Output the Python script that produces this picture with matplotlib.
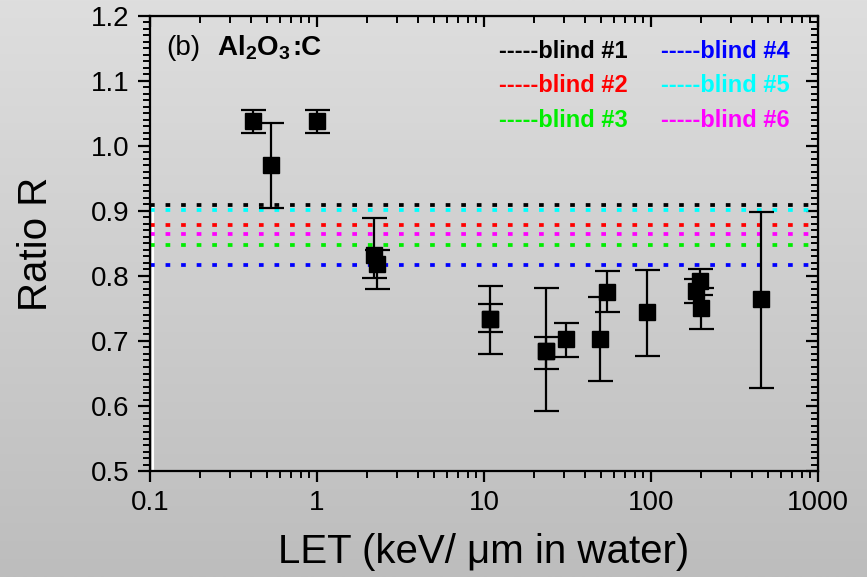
import matplotlib.pyplot as plt
import numpy as np
from matplotlib.ticker import MultipleLocator, LogLocator, NullFormatter, FixedLocator

plt.rcParams['font.family'] = ['Liberation Sans', 'DejaVu Sans']
plt.rcParams['mathtext.fontset'] = 'custom'
plt.rcParams['mathtext.rm'] = 'Liberation Sans'
plt.rcParams['mathtext.bf'] = 'Liberation Sans:bold'

# measured points (LET in keV/um, ratio R, upper / lower end of error bar)
let_vals = [0.415, 0.531, 1.003, 2.20, 2.28, 10.8, 10.8, 23.6, 23.6, 30.8,
            49.8, 54.3, 94.6, 196, 187, 200, 453]
ratio = [1.038, 0.971, 1.038, 0.832, 0.818, 0.734, 0.734, 0.685, 0.685, 0.703,
         0.703, 0.776, 0.744, 0.792, 0.777, 0.751, 0.764]
err_top = [1.055, 1.035, 1.055, 0.889, 0.840, 0.785, 0.757, 0.782, 0.706, 0.728,
           0.767, 0.808, 0.809, 0.811, 0.795, 0.782, 0.898]
err_bot = [1.020, 0.905, 1.020, 0.797, 0.780, 0.680, 0.714, 0.592, 0.657, 0.676,
           0.639, 0.744, 0.677, 0.771, 0.759, 0.719, 0.628]

# blind test levels
blind_labels = ['blind #1', 'blind #2', 'blind #3', 'blind #4', 'blind #5', 'blind #6']
blind_values = [0.909, 0.878, 0.848, 0.817, 0.901, 0.865]
blind_colors = ['#000000', '#ff0000', '#00ee00', '#0000ff', '#00ffff', '#ff00ff']

x_ticks = [0.1, 1, 10, 100, 1000]
x_ticklabels = ['0.1', '1', '10', '100', '1000']
y_ticks = [0.5, 0.6, 0.7, 0.8, 0.9, 1.0, 1.1, 1.2]

fig = plt.figure(figsize=(8.67, 5.77), dpi=100)

# grey gradient background
bg = fig.add_axes([0, 0, 1, 1], zorder=-10)
grad = np.linspace(0, 1, 256).reshape(-1, 1)
bg.imshow(grad, aspect='auto', cmap=plt.matplotlib.colors.LinearSegmentedColormap.from_list(
    'bg', ['#dedede', '#bdbdbd']), extent=[0, 1, 0, 1])
bg.axis('off')

ax = fig.add_axes([0.173, 0.1837, 0.7705, 0.7886])
ax.patch.set_alpha(0)
ax.set_xscale('log')
ax.set_xlim(0.1, 1000)
ax.set_ylim(0.5, 1.2)

for lab, val, col in zip(blind_labels, blind_values, blind_colors):
    ax.plot([0.1, 1000], [val, val], color=col, lw=2.7,
            linestyle=(0, (1.25, 2.9)), zorder=2)

ax.axvline(0.1045, ymin=0.0, ymax=0.58, color='white', lw=1.5, zorder=1)

y = np.array(ratio)
yerr = [y - np.array(err_bot), np.array(err_top) - y]
ax.errorbar(let_vals, ratio, yerr=yerr, fmt='s', color='black', mec='black',
            ms=11.5, elinewidth=1.6, capsize=9, capthick=1.6, zorder=3)

for s in ax.spines.values():
    s.set_linewidth(1.6)

ax.xaxis.set_major_locator(FixedLocator(x_ticks))
ax.set_xticklabels(x_ticklabels)
ax.xaxis.set_minor_locator(LogLocator(base=10, subs=np.arange(2, 10)))
ax.xaxis.set_minor_formatter(NullFormatter())
ax.set_yticks(y_ticks)
ax.set_yticklabels(['%.1f' % v for v in y_ticks])
ax.yaxis.set_minor_locator(MultipleLocator(0.01))

ax.tick_params(which='major', direction='out', length=8, width=1.6, labelsize=20, pad=6)
ax.tick_params(which='minor', direction='out', length=5, width=1.4)
ax.tick_params(axis='y', which='major', length=9)

top = ax.secondary_xaxis('top')
top.xaxis.set_major_locator(FixedLocator(x_ticks))
top.xaxis.set_minor_locator(LogLocator(base=10, subs=np.arange(2, 10)))
top.tick_params(which='major', direction='in', length=8, width=1.6, labeltop=False)
top.tick_params(which='minor', direction='in', length=5, width=1.4)
top.xaxis.set_minor_formatter(NullFormatter())

right = ax.secondary_yaxis('right')
right.set_yticks(y_ticks)
right.yaxis.set_minor_locator(MultipleLocator(0.01))
right.tick_params(which='major', direction='in', length=9, width=1.6, labelright=False)
right.tick_params(which='minor', direction='in', length=5, width=1.4)

ax.set_xlabel('LET (keV/ μm in water)', fontsize=29, labelpad=12)
ax.set_ylabel('Ratio R', fontsize=29)
ax.yaxis.set_label_coords(-0.142, 0.5)

ax.text(0.025, 0.914, '(b)', transform=ax.transAxes, fontsize=20, va='baseline')
ax.text(0.1, 0.914, r'$\mathbf{Al_2O_3}$', transform=ax.transAxes,
        fontsize=20, va='baseline')
ax.text(0.213, 0.914, ':C', transform=ax.transAxes, fontsize=20,
        fontweight='bold', va='baseline')

# coloured legend text, two columns
col_x = [0.5225, 0.765]
row_y = [0.921, 0.848, 0.771]
for i, (lab, col) in enumerate(zip(blind_labels, blind_colors)):
    ax.text(col_x[i // 3], row_y[i % 3], '-----' + lab, color=col,
            transform=ax.transAxes, fontsize=17, fontweight='bold', va='center')

plt.savefig('out.png', dpi=100)
